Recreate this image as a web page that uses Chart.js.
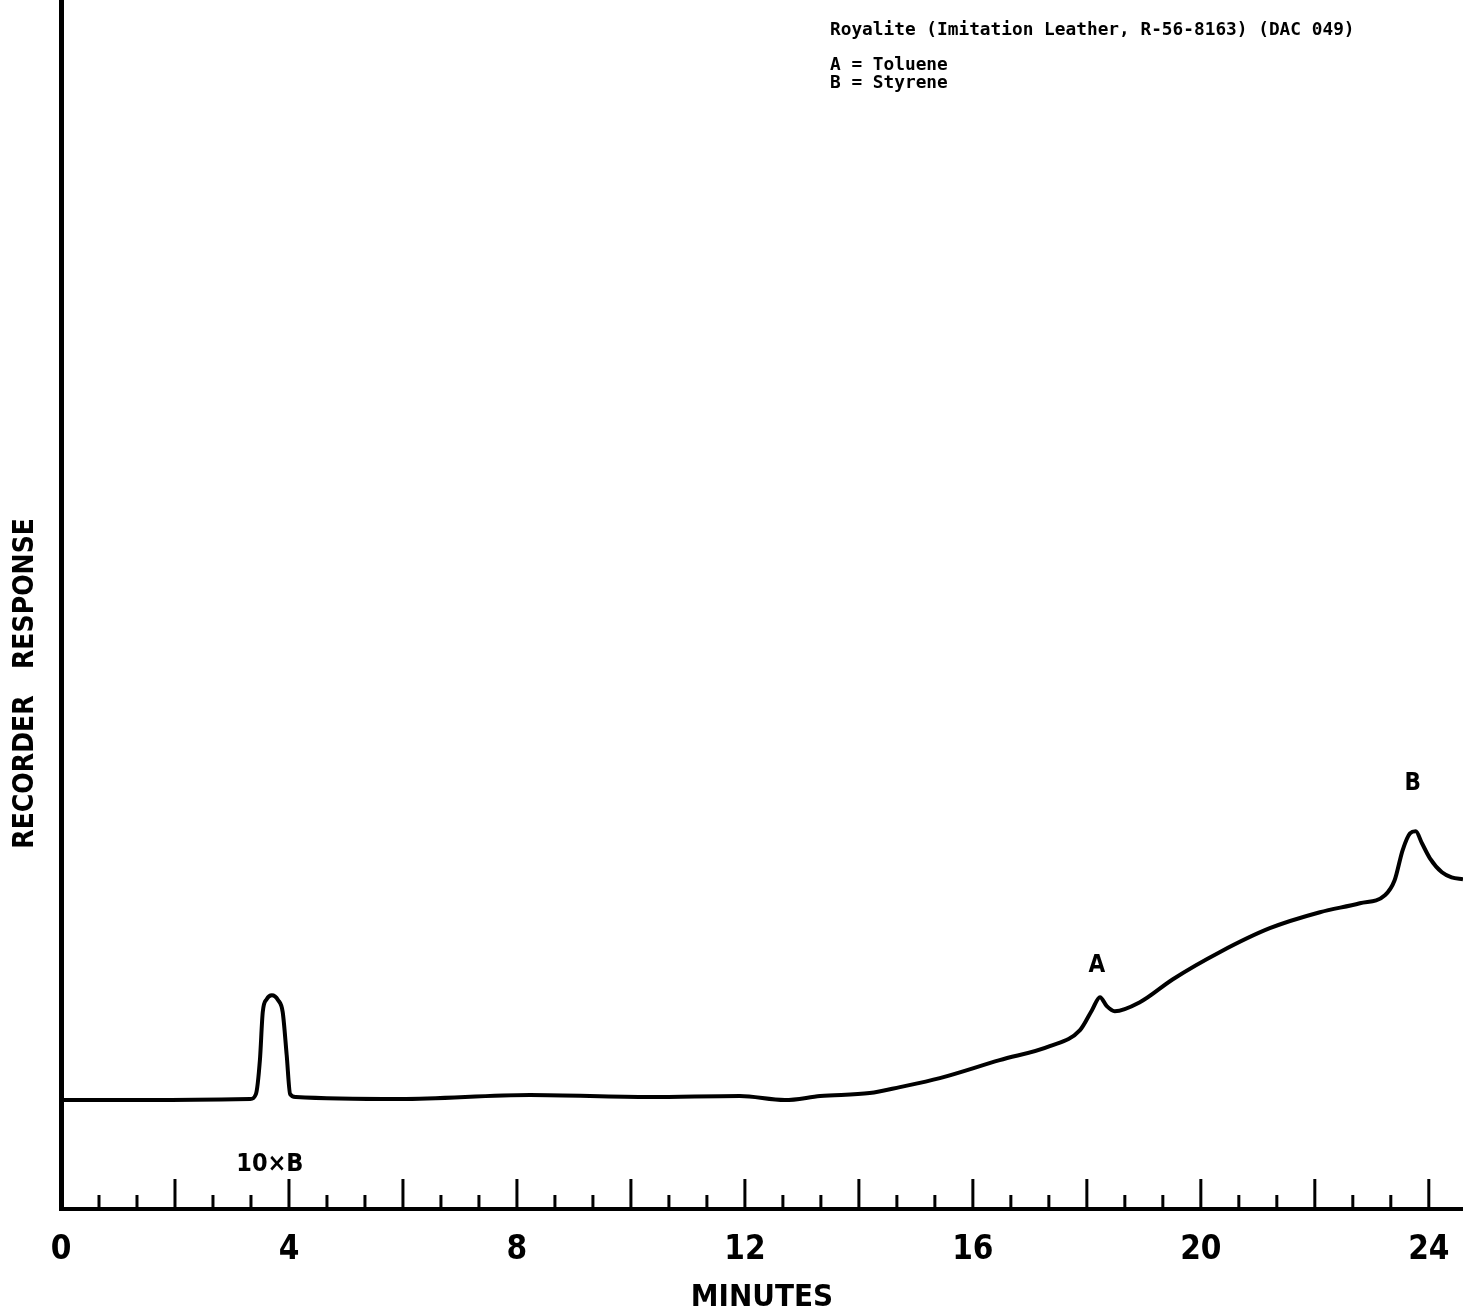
<!DOCTYPE html>
<html lang="en">
<head>
    <meta charset="UTF-8">
    <title>Royalite (Imitation Leather) chromatogram</title>
    <script src="https://cdn.jsdelivr.net/npm/chart.js"></script>
    <style>
        body { margin: 0; background: #fff; }
        #wrap { width: 1463px; height: 1313px; }
    </style>
</head>
<body>
    <div id="wrap"><canvas id="gcChart"></canvas></div>

    <script>
        // trace (minutes, recorder response)
        const minutes = [0.00, 1.56, 3.32, 3.42, 3.49, 3.54, 3.61, 3.70, 3.81, 3.89, 3.96, 4.02, 4.12,
            5.95, 8.23, 10.33, 11.91, 12.70, 13.32, 14.19, 14.72, 15.42, 16.47, 17.35, 17.88, 18.09,
            18.23, 18.35, 18.49, 18.93, 19.51, 20.33, 21.21, 22.09, 22.79, 23.23, 23.40, 23.54, 23.67,
            23.77, 23.88, 24.02, 24.23, 24.40, 24.60];
        const response = [10.9, 10.9, 11.0, 11.5, 14.9, 19.7, 21.0, 21.4, 20.9, 19.7, 15.4, 11.5, 11.2,
            11.0, 11.4, 11.2, 11.3, 10.9, 11.3, 11.6, 12.2, 13.1, 14.9, 16.3, 17.9, 19.9,
            21.2, 20.3, 19.8, 20.7, 23.0, 25.7, 28.1, 29.7, 30.6, 31.4, 32.9, 35.9, 37.6,
            37.8, 36.6, 35.1, 33.7, 33.2, 33.0];

        const tickLabels = [0, 4, 8, 12, 16, 20, 24];
        const majorTicks = [0, 2, 4, 6, 8, 10, 12, 14, 16, 18, 20, 22, 24];

        const peakNames = ['10×B', 'A', 'B'];
        const peakTimes = [3.70, 18.23, 23.77];
        const peakHeights = [21.4, 21.2, 37.8];

        const titleLines = [
            'Royalite (Imitation Leather, R-56-8163) (DAC 049)',
            '',
            'A = Toluene',
            'B = Styrene'
        ];

        const NARROW = "'Liberation Sans Narrow', 'DejaVu Sans Condensed', sans-serif";

        // tick marks standing up from the time axis
        const tickMarks = {
            id: 'tickMarks',
            afterDatasetsDraw(chart) {
                const ctx = chart.ctx, x = chart.scales.x, y0 = chart.chartArea.bottom;
                ctx.save();
                ctx.strokeStyle = '#000';
                ctx.lineWidth = 3;
                majorTicks.forEach(m => {
                    [m, m + 2 / 3, m + 4 / 3].forEach((v, i) => {
                        if (v > x.max) return;
                        const px = x.getPixelForValue(v);
                        ctx.beginPath();
                        ctx.moveTo(px, y0);
                        ctx.lineTo(px, y0 - (i === 0 ? 30 : 14));
                        ctx.stroke();
                    });
                });
                ctx.restore();
            }
        };

        // peak letters and the caption block
        const notes = {
            id: 'notes',
            afterDatasetsDraw(chart) {
                const ctx = chart.ctx, x = chart.scales.x, y = chart.scales.y;
                ctx.save();
                ctx.fillStyle = '#000';
                ctx.textAlign = 'center';
                ctx.textBaseline = 'middle';
                const offs = [64, -31, -48];
                peakNames.forEach((name, i) => {
                    ctx.font = 'bold ' + (i === 0 ? 25 : 24) + 'px ' + NARROW;
                    const px = x.getPixelForValue(peakTimes[i]) + (i === 0 ? -2 : -3);
                    const base = i === 0 ? y.getPixelForValue(response[0]) : y.getPixelForValue(peakHeights[i]);
                    ctx.fillText(name, px, base + offs[i]);
                });
                ctx.textAlign = 'left';
                ctx.textBaseline = 'alphabetic';
                ctx.font = "bold 17.8px 'DejaVu Sans Mono', monospace";
                titleLines.forEach((t, i) => {
                    const yy = i === 0 ? 35 : 70 + (i - 2) * 18;
                    if (t) ctx.fillText(t, 830, yy);
                });
                ctx.restore();
            }
        };

        const ctx = document.getElementById('gcChart').getContext('2d');
        new Chart(ctx, {
            type: 'line',
            data: {
                datasets: [{
                    data: minutes.map((m, i) => ({ x: m, y: response[i] })),
                    borderColor: '#000',
                    borderWidth: 4,
                    pointRadius: 0,
                    cubicInterpolationMode: 'monotone',
                    fill: false
                }]
            },
            options: {
                responsive: true,
                maintainAspectRatio: false,
                animation: false,
                clip: false,
                layout: { padding: 0, autoPadding: false },
                plugins: { legend: { display: false }, tooltip: { enabled: false } },
                scales: {
                    x: {
                        type: 'linear',
                        min: 0,
                        max: 24.6,
                        afterFit(s) { s.height = 104; s.paddingRight = 0; },
                        afterBuildTicks(s) { s.ticks = tickLabels.map(v => ({ value: v })); },
                        // tick marks themselves come from the plugin; tickLength only spaces the labels
                        grid: { display: false, drawTicks: true, tickLength: 22 },
                        border: { display: true, color: '#000', width: 4 },
                        ticks: {
                            color: '#000',
                            padding: 0,
                            maxRotation: 0,
                            font: { family: NARROW, size: 33, weight: 'bold' }
                        },
                        title: {
                            display: true,
                            text: 'MINUTES',
                            color: '#000',
                            padding: 0,
                            font: { family: NARROW, size: 31, weight: 'bold', lineHeight: 1 }
                        }
                    },
                    y: {
                        min: 0,
                        max: 121,
                        afterFit(s) { s.width = 61; },
                        grid: { display: false, drawTicks: false },
                        border: { display: true, color: '#000', width: 5 },
                        ticks: { display: false },
                        title: {
                            display: true,
                            text: 'RECORDER   RESPONSE' + '\u00a0'.repeat(18),
                            color: '#000',
                            padding: { top: 12, bottom: 0 },
                            font: { family: NARROW, size: 28, weight: 'bold', lineHeight: 1 }
                        }
                    }
                }
            },
            plugins: [tickMarks, notes]
        });
    </script>
</body>
</html>
